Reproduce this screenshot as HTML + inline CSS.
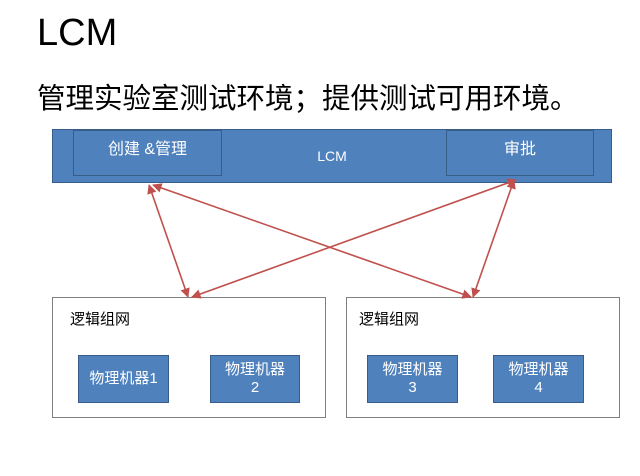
<!DOCTYPE html>
<html><head><meta charset="utf-8"><style>
body{margin:0;width:640px;height:476px;background:#fff;position:relative;overflow:hidden;font-family:"Liberation Sans","Noto Sans CJK SC",sans-serif}
.a{position:absolute;box-sizing:border-box}
.blue{background:#4f81bd;border:1.5px solid #385d8a;color:#fff;display:flex;align-items:center;justify-content:center;text-align:center;font-size:15px;line-height:18px}
.grp{border:1px solid #7f7f7f;background:#fff}
</style></head><body>
<div class="a" style="left:37px;top:12px;font-size:38px;color:#000">LCM</div>
<div class="a" style="left:37px;top:76px;font-size:28.5px;color:#000;white-space:nowrap;font-family:'Noto Sans CJK SC',sans-serif">管理实验室测试环境；提供测试可用环境。</div>
<div class="a blue" style="left:52px;top:129px;width:560px;height:54px;font-size:14px">LCM</div>
<div class="a blue" style="left:73px;top:130px;width:149px;height:46px;font-size:16px;padding-bottom:6px">创建 &amp;管理</div>
<div class="a blue" style="left:446px;top:130px;width:148px;height:46px;font-size:16px;padding-bottom:6px">审批</div>
<div class="a grp" style="left:52px;top:297px;width:274px;height:121px"></div>
<div class="a grp" style="left:346px;top:297px;width:274px;height:121px"></div>
<div class="a" style="left:70px;top:308px;font-size:15px;color:#000">逻辑组网</div>
<div class="a" style="left:359px;top:308px;font-size:15px;color:#000">逻辑组网</div>
<div class="a blue" style="left:78px;top:355px;width:91px;height:48px">物理机器1</div>
<div class="a blue" style="left:210px;top:355px;width:90px;height:48px">物理机器<br>2</div>
<div class="a blue" style="left:367px;top:355px;width:91px;height:48px">物理机器<br>3</div>
<div class="a blue" style="left:493px;top:355px;width:91px;height:48px">物理机器<br>4</div>
<svg class="a" style="left:0;top:0" width="640" height="476">
<defs><marker id="m" viewBox="0 0 10 10" refX="9" refY="5" markerWidth="6" markerHeight="6" orient="auto-start-reverse"><path d="M0,0L10,5L0,10z" fill="#c0504d"/></marker></defs>
<g stroke="#c0504d" stroke-width="1.6" fill="none" marker-start="url(#m)" marker-end="url(#m)">
<line x1="149" y1="185" x2="188" y2="297"/>
<line x1="153" y1="185" x2="471" y2="297"/>
<line x1="516" y1="180" x2="192" y2="297"/>
<line x1="514" y1="180" x2="473" y2="297"/>
</g></svg>
</body></html>
